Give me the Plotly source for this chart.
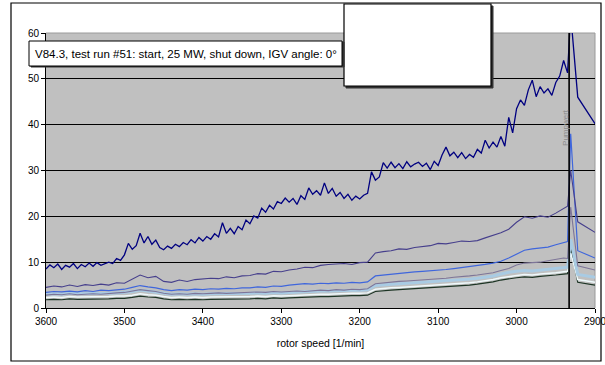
import plotly.graph_objects as go

# ---------------- data ----------------
rpm5 = list(range(3600, 2934, -5))      # sampling grid of the main series (3600 ... 2935)
rpm10 = list(range(3600, 2939, -10))    # sampling grid of the other series (3600 ... 2940)
rpm_tail_main = [2931, 2922, 2900]
rpm_tail = [2935, 2931, 2922, 2900]

s_main = [8.5, 9.4, 8.8, 9.6, 8.4, 9.3, 8.9, 9.7, 8.6, 9.5,
          9.0, 9.8, 9.1, 9.9, 9.3, 9.6, 10.0, 9.7, 10.8, 10.4,
          11.6, 14.1, 12.8, 13.6, 16.3, 14.2, 15.6, 13.9, 14.8, 13.2,
          12.7, 13.5, 13.0, 13.9, 13.4, 14.3, 13.8, 14.9, 14.2, 15.4,
          14.6, 15.6, 15.0, 16.2, 15.5, 18.6, 16.3, 17.4, 16.2, 17.8,
          17.1, 19.2, 18.4, 20.1, 19.6, 21.8, 20.9, 22.4, 21.6, 23.2,
          22.8, 24.0, 23.1, 23.9, 22.6, 24.5, 23.7, 26.2, 24.8, 25.6,
          24.6, 27.3, 25.0, 26.1, 24.4, 25.2, 23.9, 24.8, 23.5, 24.4,
          23.8, 24.6, 25.0, 29.7, 27.9, 28.6, 31.7, 30.5, 31.8, 30.6,
          31.5, 30.4, 31.9, 30.8, 31.4, 31.8, 30.9, 31.6, 30.2, 32.0,
          31.1, 33.4, 35.1, 33.2, 34.0, 32.8, 33.9, 32.6, 33.5, 32.9,
          34.6, 33.8, 36.6, 34.9, 36.2, 35.1, 37.4, 35.3, 41.6, 38.2,
          43.5, 45.4, 44.2, 47.6, 49.7, 46.1, 48.3, 46.9, 47.8, 46.4,
          49.2, 50.6, 54.0, 51.3]
s_main_tail = [64.0, 46.0, 40.2]

s2 = [4.5, 4.8, 4.6, 5.0, 4.7, 5.1, 4.9, 5.2, 5.0, 5.5,
      5.4, 6.3, 7.2, 6.6, 6.9, 5.8, 5.6, 6.1, 5.8, 6.2,
      6.3, 6.5, 6.4, 6.8, 6.6, 7.0, 7.1, 7.5, 7.4, 8.0,
      7.9, 8.3, 8.5, 8.9, 8.8, 9.3, 9.5, 9.6, 9.7, 9.5,
      9.9, 10.0, 12.0, 12.3, 12.5, 12.9, 12.8, 13.2, 13.4, 13.6,
      14.1, 14.0, 14.3, 14.6, 14.5, 14.7, 15.3, 15.8, 16.4, 17.2,
      18.7, 19.9, 19.6, 20.1, 19.8, 20.7, 21.8]
s2_tail = [22.2, 30.0, 18.8, 16.5]

s3 = [3.4, 3.6, 3.5, 3.7, 3.5, 3.8, 3.6, 3.9, 3.8, 4.0,
      4.1, 4.5, 4.9, 4.6, 4.4, 4.0, 3.8, 4.0, 3.9, 4.1,
      4.0, 4.2, 4.1, 4.3, 4.2, 4.4, 4.4, 4.6, 4.5, 4.8,
      4.7, 5.0, 5.1, 5.3, 5.2, 5.4, 5.3, 5.5, 5.4, 5.6,
      5.5, 5.7, 7.0, 7.2, 7.4, 7.5, 7.7, 7.9, 8.0, 8.1,
      8.3, 8.4, 8.6, 8.8, 9.0, 9.3, 9.5, 9.8, 10.2, 10.9,
      11.8, 12.6, 12.9, 13.1, 13.3, 13.8, 14.2]
s3_tail = [14.5, 38.0, 12.5, 10.9]

s4 = [2.8, 3.0, 2.9, 3.1, 2.9, 3.0, 3.1, 3.0, 3.2, 3.3,
      3.4, 3.7, 4.0, 3.8, 3.6, 3.2, 3.0, 3.1, 3.0, 3.2,
      3.1, 3.2, 3.3, 3.2, 3.3, 3.4, 3.4, 3.5, 3.4, 3.6,
      3.5, 3.6, 3.7, 3.6, 3.8, 3.9, 3.8, 4.0, 3.9, 4.1,
      4.0, 4.2, 5.3, 5.5, 5.6, 5.8, 5.9, 6.0, 6.2, 6.3,
      6.4, 6.5, 6.7, 6.8, 7.0, 7.2, 7.4, 7.7, 8.2, 8.6,
      9.4, 9.8, 9.9, 10.0, 10.3, 10.6, 10.9]
s4_tail = [10.8, 22.0, 9.2, 8.3]

s5 = [3.0, 3.1, 3.0, 3.2, 3.1, 3.1, 3.2, 3.1, 3.2, 3.3,
      3.4, 3.6, 3.9, 3.7, 3.5, 3.2, 3.0, 3.1, 3.0, 3.1,
      3.0, 3.1, 3.1, 3.2, 3.1, 3.2, 3.2, 3.3, 3.2, 3.4,
      3.3, 3.4, 3.5, 3.5, 3.6, 3.7, 3.7, 3.8, 3.8, 3.9,
      3.9, 4.0, 4.9, 5.1, 5.2, 5.3, 5.4, 5.5, 5.6, 5.7,
      5.8, 5.9, 6.0, 6.1, 6.3, 6.5, 6.7, 7.0, 7.4, 7.8,
      8.0, 8.2, 8.1, 8.3, 8.4, 8.6, 8.8]
s5_tail = [8.9, 15.0, 7.3, 6.7]

s6 = [2.3, 2.4, 2.3, 2.5, 2.4, 2.4, 2.5, 2.4, 2.5, 2.6,
      2.6, 2.8, 3.1, 2.9, 2.8, 2.5, 2.3, 2.4, 2.3, 2.4,
      2.3, 2.4, 2.4, 2.5, 2.4, 2.5, 2.5, 2.6, 2.5, 2.7,
      2.6, 2.7, 2.8, 2.8, 2.9, 3.0, 3.0, 3.1, 3.1, 3.2,
      3.2, 3.3, 4.1, 4.3, 4.4, 4.5, 4.6, 4.7, 4.8, 4.9,
      5.0, 5.1, 5.2, 5.3, 5.5, 5.7, 5.9, 6.2, 6.6, 6.9,
      7.1, 7.3, 7.2, 7.4, 7.5, 7.7, 7.9]
s6_tail = [8.0, 12.0, 6.2, 5.6]

s7 = [1.8, 1.9, 1.8, 2.0, 1.9, 1.9, 2.0, 1.9, 2.0, 2.1,
      2.1, 2.3, 2.6, 2.4, 2.3, 2.0, 1.8, 1.9, 1.8, 1.9,
      1.8, 1.9, 1.9, 2.0, 1.9, 2.0, 2.0, 2.1, 2.0, 2.2,
      2.1, 2.2, 2.3, 2.3, 2.4, 2.5, 2.5, 2.6, 2.6, 2.7,
      2.7, 2.8, 3.6, 3.8, 3.9, 4.0, 4.1, 4.2, 4.3, 4.4,
      4.5, 4.6, 4.7, 4.8, 5.0, 5.2, 5.4, 5.7, 6.1, 6.4,
      6.6, 6.8, 6.7, 6.9, 7.0, 7.2, 7.4]
s7_tail = [7.5, 13.0, 5.6, 5.0]

pump_rpm = [2933, 2933]
pump_y = [0, 60]

x_ticks = [3600, 3500, 3400, 3300, 3200, 3100, 3000, 2900]
y_ticks = [0, 10, 20, 30, 40, 50, 60]

title_text = "V84.3, test run #51: start, 25 MW, shut down, IGV angle: 0°"
x_title = "rotor speed [1/min]"
pump_label = "Pumpwert"

FONT = "Liberation Sans, Arial, sans-serif"

# ---------------- figure ----------------
fig = go.Figure()

others = [
    (s7, s7_tail, "#1c3424", 1.2),
    (s6, s6_tail, "#eef9fb", 1.5),
    (s5, s5_tail, "#a9cbe3", 3.0),
    (s4, s4_tail, "#7d7598", 1.1),
    (s3, s3_tail, "#3f66dc", 1.2),
    (s2, s2_tail, "#463f8c", 1.1),
]
for vals, tail, col, w in others:
    fig.add_trace(go.Scatter(x=rpm10 + rpm_tail, y=vals + tail, mode="lines",
                             line=dict(color=col, width=w), showlegend=False,
                             hoverinfo="skip"))

fig.add_trace(go.Scatter(x=rpm5 + rpm_tail_main, y=s_main + s_main_tail, mode="lines",
                         line=dict(color="#000080", width=1.3), showlegend=False,
                         hoverinfo="skip"))

fig.add_trace(go.Scatter(x=pump_rpm, y=pump_y, mode="lines",
                         line=dict(color="#000000", width=1.6), showlegend=False,
                         hoverinfo="skip"))

W, H = 605, 365
L, T = 46, 33
R = W - 595
B = H - 308
PW, PH = W - L - R, H - T - B


def px(x):
    return (x - L) / PW


def py(y):
    return (H - B - y) / PH


shapes = [
    dict(type="line", xref="paper", yref="paper", x0=0, x1=1, y0=1, y1=1,
         line=dict(color="#9a9a9a", width=1), layer="between"),
    dict(type="line", xref="paper", yref="paper", x0=1, x1=1, y0=0, y1=1,
         line=dict(color="#9a9a9a", width=1), layer="between"),
    dict(type="rect", xref="paper", yref="paper", x0=px(11), x1=px(601), y0=py(361), y1=py(3),
         line=dict(color="#000000", width=1.2), layer="above"),
    dict(type="rect", xref="paper", yref="paper", x0=px(346), x1=px(493), y0=py(88), y1=py(6),
         line=dict(color="#333333", width=1), fillcolor="#333333", layer="above"),
    dict(type="rect", xref="paper", yref="paper", x0=px(344), x1=px(491), y0=py(86), y1=py(4),
         line=dict(color="#000000", width=1.2), fillcolor="#ffffff", layer="above"),
    dict(type="rect", xref="paper", yref="paper", x0=px(31), x1=px(344), y0=py(67), y1=py(42),
         line=dict(color="#333333", width=1), fillcolor="#333333", layer="above"),
    dict(type="rect", xref="paper", yref="paper", x0=px(29), x1=px(342), y0=py(66), y1=py(41),
         line=dict(color="#000000", width=1), fillcolor="#ffffff", layer="above"),
]

annotations = [
    dict(xref="paper", yref="paper", x=px(33), y=py(53.5), xanchor="left", yanchor="middle",
         text=title_text, showarrow=False, font=dict(family=FONT, size=11.5, color="#000000")),
    dict(xref="x", yref="y", x=2937, y=39.5, text=pump_label, textangle=-90, showarrow=False,
         font=dict(family=FONT, size=8, color="#8c8c8c")),
]

fig.update_layout(
    width=W, height=H,
    autosize=False,
    margin=dict(l=L, r=R, t=T, b=B, pad=0, autoexpand=False),
    paper_bgcolor="#ffffff",
    plot_bgcolor="#c0c0c0",
    font=dict(family=FONT, size=10, color="#000000"),
    showlegend=False,
    shapes=shapes,
    annotations=annotations,
    xaxis=dict(range=[3600, 2900], tickvals=x_ticks, ticks="outside", ticklen=4,
               tickcolor="#000000", showline=True, linecolor="#000000", linewidth=1,
               showgrid=False, zeroline=False, tickfont=dict(size=10),
               ticklabeloverflow="allow", automargin=False,
               title=dict(text=x_title, font=dict(size=10.5), standoff=13)),
    yaxis=dict(range=[0, 60], tickvals=y_ticks, ticks="outside", ticklen=4,
               tickcolor="#000000", showline=True, linecolor="#000000", linewidth=1,
               showgrid=True, gridcolor="#000000", gridwidth=1, zeroline=False,
               automargin=False, tickfont=dict(size=10)),
)

fig.write_html("out.html",
               config={"responsive": False, "displayModeBar": False, "staticPlot": True},
               post_script="document.body.style.margin='0px';"
                           "document.documentElement.style.overflow='hidden';"
                           "document.body.style.overflow='hidden';")
